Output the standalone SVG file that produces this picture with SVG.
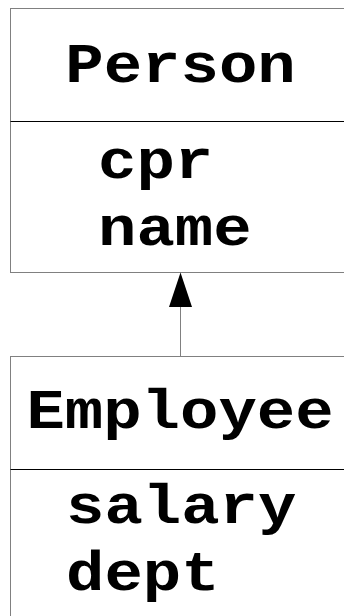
<svg xmlns="http://www.w3.org/2000/svg" width="344" height="616" viewBox="0 0 344 616">
  <defs>
    <style>
      .box { fill: #ffffff; stroke: #808080; stroke-width: 1; }
      .div { stroke: #000000; stroke-width: 1; }
      .t { font-family: "Courier New", "Liberation Mono", "DejaVu Sans Mono", monospace; font-weight: bold; font-size: 64px; fill: #000000; }
      .edge { stroke: #808080; stroke-width: 1; fill: none; }
    </style>
  </defs>
  <rect width="344" height="616" fill="#ffffff"/>
  <g id="Person">
    <rect class="box" x="10.5" y="8.5" width="341" height="264"/>
    <line class="div" x1="10.5" y1="121.5" x2="352" y2="121.5"/>
    <text class="t" transform="translate(180.5,82) scale(1,0.86)" text-anchor="middle">Person</text>
    <text class="t" transform="translate(98,178) scale(1,0.86)">cpr</text>
    <text class="t" transform="translate(98,245) scale(1,0.86)">name</text>
  </g>
  <g id="Employee">
    <rect class="box" x="10.5" y="356.5" width="341" height="300"/>
    <line class="div" x1="10.5" y1="469.5" x2="352" y2="469.5"/>
    <text class="t" transform="translate(180,428) scale(1,0.86)" text-anchor="middle">Employee</text>
    <text class="t" transform="translate(66,523) scale(1,0.86)">salary</text>
    <text class="t" transform="translate(66,590) scale(1,0.86)">dept</text>
  </g>
  <g id="connectors">
    <line class="edge" x1="180.5" y1="356" x2="180.5" y2="305"/>
    <path d="M180.5,272.5 L192,307 L169,307 Z" fill="#000000"/>
  </g>
</svg>
